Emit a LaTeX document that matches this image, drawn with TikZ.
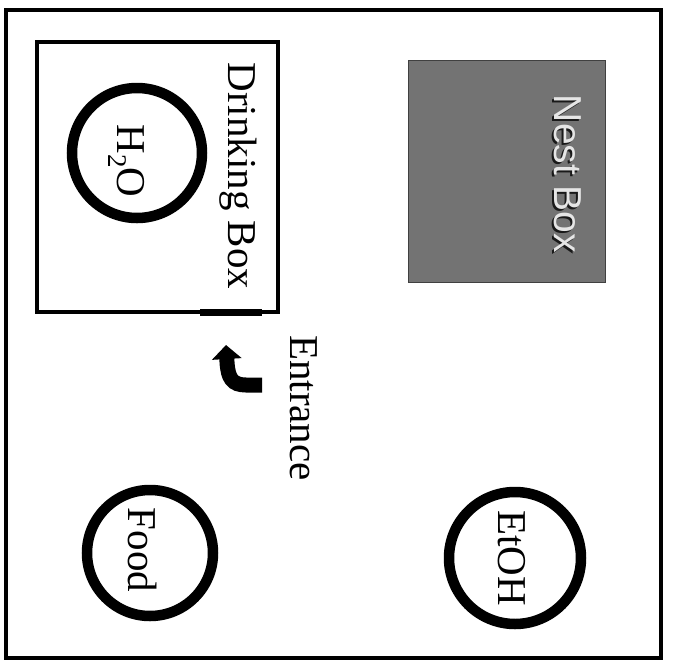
\documentclass[tikz,border=0pt]{standalone}
\usepackage{fontspec}
\setmainfont{Liberation Serif}
\newfontfamily\nestfont{Liberation Sans}
\usetikzlibrary{arrows.meta}
\tikzset{
  lbl/.style={rotate=-90, anchor=base, inner sep=0pt, font=\fontsize{41}{41}\selectfont},
  dish/.style={line width=10.5pt, draw=black},
  wall/.style={line width=4pt, draw=black},
}
\begin{document}
\begin{tikzpicture}[x=1pt, y=-1pt]
\useasboundingbox (0,0) rectangle (673,665);
% outer cage
\draw[wall] (6,10) rectangle (661,658);
% drinking box
\draw[line width=3.5pt] (37,42) rectangle (278,312);
\draw[line width=7pt] (200,312) -- (262,312);
% nest box
\fill[black!55] (408,60) rectangle (605,282);
\draw[line width=1pt, black!75] (408,60) rectangle (605,282);
% dishes
\draw[dish] (137,153) circle (65pt);
\draw[dish] (515,558) circle (66pt);
\draw[dish] (150,553) circle (63pt);
% labels
\node[lbl] (drink) at (228,176) {Drinking Box};
\node[lbl] (water) at (117,161) {H\raisebox{-9pt}{\fontsize{27}{27}\selectfont 2}O};
\node[lbl] (food) at (128,550) {Food};
\node[lbl] (etoh) at (498,558) {EtOH};
\node[lbl] (entr) at (290,408) {Entrance};
\node[lbl, font=\nestfont\fontsize{39}{39}\selectfont, text=black!90] (nestsh) at (552,176) {Nest Box};
\node[lbl, font=\nestfont\fontsize{39}{39}\selectfont, text=black!10] (nest) at (554,174) {Nest Box};
% entrance arrow
\coordinate (arrS) at (262,385);
\coordinate (arrT) at (226,345);
\draw[line width=15pt, -{Triangle[width=29pt,length=14pt]}] (arrS) -- (246,385) .. controls (232,385) and (228,378) .. (227,362) -- (arrT);
\end{tikzpicture}
\end{document}
